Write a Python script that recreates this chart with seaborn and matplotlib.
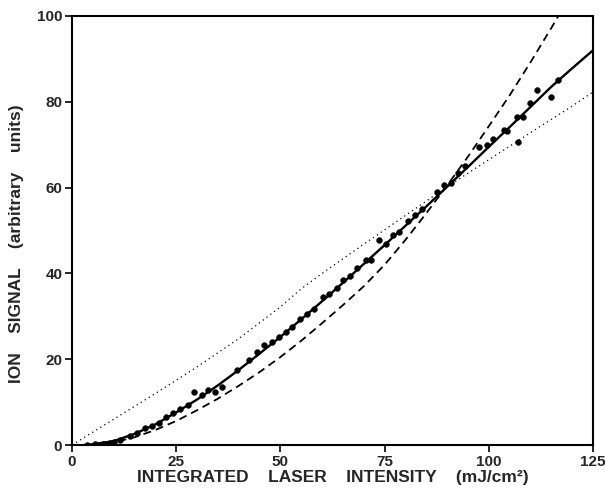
import matplotlib
matplotlib.use("Agg")
import matplotlib.pyplot as plt
import seaborn as sns
import pandas as pd

# measured data points
pts_x = [3.5, 5.5, 7.5, 9.0, 10.0, 11.5, 13.9, 15.6, 17.5, 19.1, 20.9, 22.5, 24.3, 25.9,
         27.8, 29.3, 31.2, 32.6, 34.3, 36.0, 39.6, 42.5, 44.4, 46.0, 48.0, 49.7, 51.3,
         52.8, 54.7, 56.4, 58.0, 60.2, 61.7, 63.6, 65.0, 66.7, 68.4, 70.5, 71.7, 73.6,
         75.3, 77.0, 78.5, 80.6, 82.3, 84.0, 87.6, 89.2, 91.0, 92.6, 94.2, 97.6, 99.6,
         101.0, 103.6, 104.4, 107.0, 106.8, 108.2, 109.9, 111.6, 114.9, 116.6]
pts_y = [0.1, 0.2, 0.3, 0.5, 0.6, 1.2, 2.1, 2.8, 3.9, 4.4, 5.1, 6.5, 7.4, 8.4,
         9.3, 12.4, 11.7, 12.8, 12.4, 13.5, 17.4, 19.8, 21.7, 23.2, 24.1, 25.2, 26.3,
         27.5, 29.4, 30.5, 31.8, 34.6, 35.2, 36.7, 38.5, 39.4, 41.2, 43.1, 43.2, 47.7,
         46.9, 49.0, 49.7, 52.2, 53.6, 55.0, 59.0, 60.5, 61.0, 63.5, 65.0, 69.5, 69.9,
         71.3, 73.4, 73.2, 70.6, 76.5, 76.5, 79.7, 82.8, 81.1, 85.1]

# solid fit curve
solid_x = [3, 5, 10, 15, 20, 25, 30, 35, 40, 45, 50, 55, 60, 65, 70, 75, 80, 85, 90,
           95, 100, 105, 110, 115, 120, 125]
solid_y = [0.0, 0.2, 0.9, 2.6, 4.8, 7.6, 10.6, 13.9, 17.5, 21.3, 25.2, 29.3, 33.5, 37.8,
           42.2, 46.6, 51.1, 55.6, 60.2, 64.8, 69.5, 74.1, 78.8, 83.5, 87.8, 92.0]

# dashed curve
dash_x = [5, 10, 15, 20, 25, 30, 35, 40, 45, 50, 55, 60, 65, 70, 75, 80, 85, 90, 95,
          100, 105, 110, 115, 117]
dash_y = [0.0, 0.6, 1.8, 3.5, 5.6, 8.1, 10.8, 13.8, 17.0, 20.5, 24.3, 28.4, 32.6, 37.0,
          42.0, 47.8, 54.0, 60.5, 67.2, 74.3, 81.5, 89.2, 97.2, 100.5]

# dotted curve
dot_x = [0, 10, 20, 30, 40, 50, 55, 60, 70, 80, 90, 100, 110, 120, 125]
dot_y = [0.0, 6.0, 12.0, 18.2, 24.8, 32.2, 36.4, 40.0, 46.8, 53.5, 60.2, 66.5, 72.8,
         79.0, 82.3]

x_ticks = [0, 25, 50, 75, 100, 125]
y_ticks = [0, 20, 40, 60, 80, 100]

sns.set_style("ticks")
plt.rcParams['font.family'] = ['Liberation Sans', 'DejaVu Sans']

fig = plt.figure(figsize=(6.06, 4.92), dpi=100)
ax = fig.add_axes([0.1188, 0.0955, 0.8597, 0.872])

df_pts = pd.DataFrame({"x": pts_x, "y": pts_y})
df_s = pd.DataFrame({"x": solid_x, "y": solid_y})
df_d = pd.DataFrame({"x": dash_x, "y": dash_y})
df_o = pd.DataFrame({"x": dot_x, "y": dot_y})

sns.lineplot(data=df_o, x="x", y="y", ax=ax, color="black", lw=0.9,
             linestyle=(0, (1, 2.8)), sort=False, estimator=None)
sns.lineplot(data=df_d, x="x", y="y", ax=ax, color="black", lw=1.3,
             linestyle=(0, (4.4, 2.8)), sort=False, estimator=None)
sns.lineplot(data=df_s, x="x", y="y", ax=ax, color="black", lw=1.7,
             sort=False, estimator=None)
sns.scatterplot(data=df_pts, x="x", y="y", ax=ax, color="black", s=18,
                edgecolor="black", linewidth=0.3, zorder=5)

ax.set_xlim(0, 125)
ax.set_ylim(0, 100)
ax.set_xticks(x_ticks)
ax.set_yticks(y_ticks)
ax.set_xticklabels([str(t) for t in x_ticks], fontsize=11, fontweight='bold')
ax.set_yticklabels([str(t) for t in y_ticks], fontsize=11, fontweight='bold')
ax.tick_params(direction='out', length=5, width=1.2, color='black', pad=2)
for sp in ax.spines.values():
    sp.set_visible(True)
    sp.set_linewidth(1.5)
    sp.set_color('black')

ax.set_xlabel("INTEGRATED    LASER    INTENSITY    (mJ/cm\u00b2)",
              fontsize=12.5, fontweight='bold', labelpad=1)
ax.set_ylabel("ION    SIGNAL    (arbitrary    units)", fontsize=12.5,
              fontweight='bold')
ax.yaxis.set_label_coords(-0.092, 0.47)

fig.savefig("out.png", dpi=100)
